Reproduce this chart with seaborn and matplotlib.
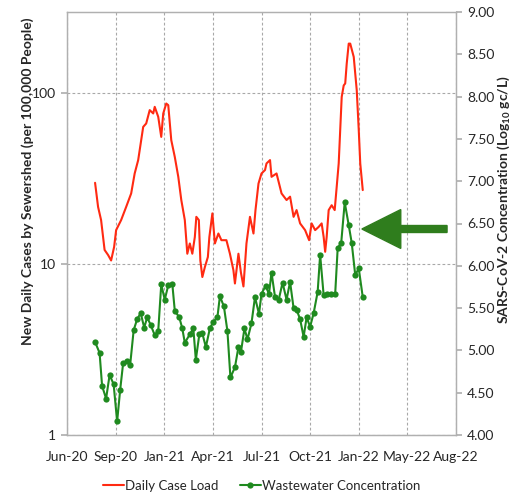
import matplotlib
matplotlib.use('Agg')
import matplotlib.pyplot as plt
import matplotlib.dates as mdates
from matplotlib.patches import FancyArrow
from matplotlib.ticker import FixedLocator, FuncFormatter
import seaborn as sns
import pandas as pd

# daily case load (per 100,000), left log axis
case_dates = [
    "2020-08-20", "2020-08-26", "2020-09-01", "2020-09-08", "2020-09-15", "2020-09-21",
    "2020-09-27", "2020-10-01", "2020-10-11", "2020-10-21", "2020-10-31",
    "2020-11-07", "2020-11-14", "2020-11-24", "2020-11-30", "2020-12-07", "2020-12-14",
    "2020-12-17", "2020-12-24", "2020-12-30",
    "2021-01-03", "2021-01-09", "2021-01-13", "2021-01-19", "2021-01-26",
    "2021-02-02", "2021-02-08", "2021-02-15", "2021-02-20", "2021-02-25",
    "2021-03-02", "2021-03-07", "2021-03-10", "2021-03-15", "2021-03-18", "2021-03-22", "2021-03-27",
    "2021-04-02", "2021-04-05", "2021-04-11", "2021-04-16", "2021-04-23", "2021-04-29",
    "2021-05-09", "2021-05-16", "2021-05-23", "2021-05-26",
    "2021-06-02", "2021-06-07", "2021-06-12", "2021-06-18", "2021-06-25",
    "2021-07-02", "2021-07-06", "2021-07-12", "2021-07-18", "2021-07-25", "2021-07-28",
    "2021-08-04", "2021-08-07", "2021-08-17", "2021-08-27",
    "2021-09-06", "2021-09-13", "2021-09-20", "2021-09-26",
    "2021-10-03", "2021-10-13", "2021-10-21", "2021-10-26",
    "2021-11-02", "2021-11-09", "2021-11-15", "2021-11-19", "2021-11-22", "2021-11-25", "2021-11-29",
    "2021-12-05", "2021-12-11", "2021-12-15", "2021-12-19", "2021-12-22", "2021-12-25", "2021-12-29",
    "2022-01-01", "2022-01-04", "2022-01-08", "2022-01-11", "2022-01-18", "2022-01-24",
    "2022-01-28", "2022-01-31", "2022-02-05",
]
case_load = [
    29.9, 21.6, 18.1, 12.1, 11.3, 10.5, 12.6, 15.8, 18.1, 21.6, 25.9,
    33.9, 40.6, 63.5, 66.5, 79.6, 76.1, 83.2, 72.7, 55.5,
    76.1, 87.0, 85.1, 53.1, 42.4,
    32.4, 23.7, 18.1, 11.5, 13.2,
    11.5, 14.4, 18.9, 18.1, 10.5, 8.4, 9.6,
    11.0, 14.4, 19.8, 13.2, 15.1, 13.8,
    13.8, 11.5, 9.2, 7.7,
    11.5, 8.9, 7.4, 13.2, 18.9,
    15.1, 20.7, 29.6, 33.9, 35.5, 38.8,
    40.6, 32.4, 33.9, 25.9,
    23.7, 24.8, 18.9, 20.7,
    17.3, 15.8, 13.8, 17.3,
    15.8, 16.5, 17.3, 14.4, 11.8, 14.4, 20.7,
    22.1, 20.7, 28.3, 38.8, 60.8, 95.1, 111,
    114, 149, 195, 195, 163, 104, 60.8, 38.8, 27.1,
]

# wastewater SARS-CoV-2 concentration (log10 gc/L), right axis
ww_dates = [
    "2020-08-20", "2020-08-29", "2020-09-03", "2020-09-11", "2020-09-18", "2020-09-26",
    "2020-10-03", "2020-10-09", "2020-10-15", "2020-10-23", "2020-10-29",
    "2020-11-05", "2020-11-12", "2020-11-19", "2020-11-26", "2020-12-02", "2020-12-09",
    "2020-12-17", "2020-12-24", "2020-12-30",
    "2021-01-06", "2021-01-13", "2021-01-21", "2021-01-26",
    "2021-02-04", "2021-02-10", "2021-02-15", "2021-02-25",
    "2021-03-04", "2021-03-09", "2021-03-16", "2021-03-22", "2021-03-29",
    "2021-04-06", "2021-04-13", "2021-04-21", "2021-04-26",
    "2021-05-04", "2021-05-11", "2021-05-17", "2021-05-26",
    "2021-06-02", "2021-06-07", "2021-06-14", "2021-06-20", "2021-06-28",
    "2021-07-05", "2021-07-13", "2021-07-18", "2021-07-26",
    "2021-08-02", "2021-08-07", "2021-08-14", "2021-08-21", "2021-08-29",
    "2021-09-06", "2021-09-13", "2021-09-20", "2021-09-26",
    "2021-10-03", "2021-10-10", "2021-10-16", "2021-10-23", "2021-10-30",
    "2021-11-07", "2021-11-12", "2021-11-19", "2021-11-25",
    "2021-12-04", "2021-12-12", "2021-12-17", "2021-12-24", "2021-12-31",
    "2022-01-08", "2022-01-14", "2022-01-21", "2022-01-28", "2022-02-05",
]
ww_conc = [
    5.10, 4.97, 4.58, 4.43, 4.71, 4.60, 4.16, 4.53, 4.85, 4.87, 4.83,
    5.24, 5.37, 5.44, 5.27, 5.39, 5.30, 5.18, 5.23, 5.78,
    5.60, 5.77, 5.79, 5.47,
    5.39, 5.26, 5.09, 5.19,
    5.26, 4.89, 5.19, 5.20, 5.04,
    5.26, 5.34, 5.39, 5.64,
    5.52, 5.23, 4.68, 4.80,
    5.04, 4.98, 5.26, 5.13, 5.32,
    5.63, 5.43, 5.67, 5.76,
    5.67, 5.92, 5.63, 5.59, 5.80,
    5.60, 5.81, 5.50, 5.48,
    5.37, 5.16, 5.39, 5.28, 5.44,
    5.69, 6.13, 5.65, 5.67,
    5.67, 5.67, 6.21, 6.27, 6.75,
    6.48, 6.27, 5.89, 5.97, 5.63,
]

left_ticks = [1, 10, 100]
right_ticks = [4.0, 4.5, 5.0, 5.5, 6.0, 6.5, 7.0, 7.5, 8.0, 8.5, 9.0]

RED = '#ff2a12'
GREEN = '#1f8a1f'
ARROW = '#2f7d1d'
GRID = '#a8a8a8'

sns.set_theme(style="white")
plt.rcParams['font.family'] = ['Lato', 'DejaVu Sans']
plt.rcParams['mathtext.fontset'] = 'custom'
plt.rcParams['mathtext.rm'] = 'Lato'
plt.rcParams['mathtext.bf'] = 'Lato:bold'

cases = pd.DataFrame({'date': pd.to_datetime(case_dates), 'cases': case_load})
ww = pd.DataFrame({'date': pd.to_datetime(ww_dates), 'conc': ww_conc})

fig = plt.figure(figsize=(5.13, 4.92), dpi=100)
ax = fig.add_axes([67 / 513, 57 / 492, 389 / 513, 423 / 492])
ax2 = ax.twinx()

sns.lineplot(data=cases, x='date', y='cases', ax=ax, color=RED, linewidth=1.5,
             label='Daily Case Load', legend=False)
sns.lineplot(data=ww, x='date', y='conc', ax=ax2, color=GREEN, linewidth=1.5,
             marker='o', markersize=4.5, markeredgewidth=0,
             label='Wastewater Concentration', legend=False)

# axes ranges / scales
x_ticks = pd.date_range('2020-06-25', periods=9, freq='97D')
ax.set_xlim(x_ticks[0], x_ticks[-1])
ax.set_yscale('log')
ax.set_ylim(1, 10 ** 2.475)
ax2.set_ylim(4, 9)

ax.xaxis.set_major_locator(FixedLocator(mdates.date2num(x_ticks)))
ax.xaxis.set_major_formatter(mdates.DateFormatter('%b-%y'))
ax.yaxis.set_major_locator(FixedLocator(left_ticks))
ax.yaxis.set_minor_locator(FixedLocator([]))
ax.yaxis.set_major_formatter(FuncFormatter(lambda v, p: f'{v:g}'))
ax2.yaxis.set_major_locator(FixedLocator(right_ticks))
ax2.yaxis.set_major_formatter(FuncFormatter(lambda v, p: f'{v:.2f}'))

# dashed grid
ax.grid(True, which='major', axis='both', color=GRID, linestyle=(0, (2.5, 2)), linewidth=0.8)
ax2.grid(False)

for a in (ax, ax2):
    for s in a.spines.values():
        s.set_color('#b0b0b0')
        s.set_linewidth(0.9)

ax.tick_params(axis='x', labelsize=10, pad=10, length=3, direction='inout', color='#b0b0b0')
ax.tick_params(axis='y', labelsize=10, pad=4, length=4, direction='out', color='#b0b0b0', left=True)
ax2.tick_params(axis='y', labelsize=10, pad=4, length=4, direction='out', color='#b0b0b0', right=True)

ax.set_xlabel('')
ax.set_ylabel('New Daily Cases by Sewershed (per 100,000 People)', fontsize=10, fontweight='bold')
ax.yaxis.set_label_coords(-0.085, 0.60)
ax2.set_ylabel(r'SARS-CoV-2 Concentration (Log$_{\mathbf{10}}$ gc/L)', fontsize=10, fontweight='bold')
ax2.yaxis.set_label_coords(1.1, 0.557)

# legend below the plot
h1, l1 = ax.get_legend_handles_labels()
h2, l2 = ax2.get_legend_handles_labels()
ax.legend(h1 + h2, l1 + l2, loc='center', bbox_to_anchor=(0.5, -0.12), ncol=2,
          frameon=False, fontsize=9.5, handlelength=1.6, handletextpad=0.1, columnspacing=1.6)

# big green arrow pointing at the Jan-22 peak
arrow = FancyArrow(0.977, 0.487, -0.219, 0, width=0.0165, head_width=0.092, head_length=0.100,
                   length_includes_head=True, transform=ax.transAxes, color=ARROW,
                   clip_on=False, zorder=5)
ax2.add_patch(arrow)

fig.savefig('out.png', dpi=100)
